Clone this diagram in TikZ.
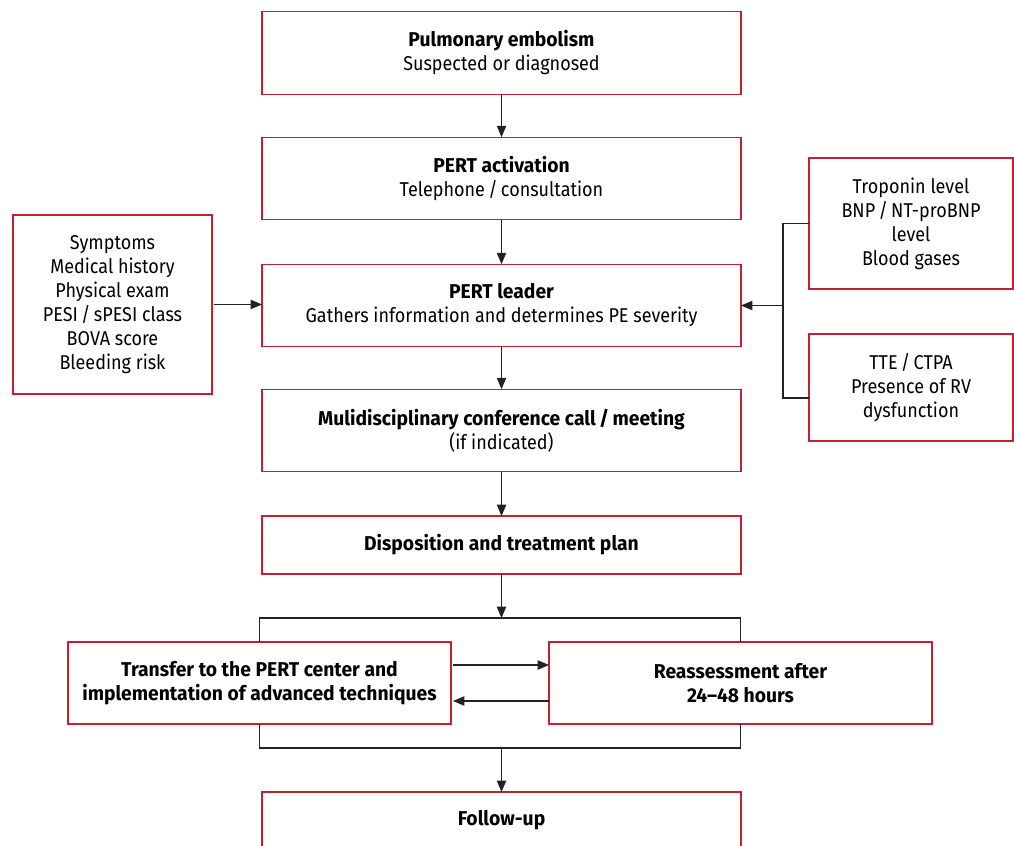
\documentclass[tikz,border=0pt]{standalone}
\usepackage{fontspec}
\setmainfont{Fira Sans}[FakeStretch=0.9, BoldFeatures={FakeStretch=0.965}]
\usepackage{xcolor}
\usepackage{tikz}
\usetikzlibrary{arrows.meta,calc,positioning}
\definecolor{boxred}{RGB}{200,30,50}
\definecolor{linegray}{RGB}{34,34,34}

\begin{document}
\begin{tikzpicture}[
			x = 0.75pt, y = -0.75pt,
			every node/.style = {font=\fontsize{15}{18}\selectfont, align=center, inner sep=0pt, outer sep=0pt},
			box/.style = {draw=boxred, line width=0.8pt, fill=white},
			mainbox/.style = {box, minimum width=359.25pt, minimum height=62pt},
			link/.style = {draw=linegray, line width=0.8pt},
			arr/.style = {link, -{Triangle[length=8.5pt,width=7pt]}}
			]
			\useasboundingbox (0,0) rectangle (1014,846);

			% central column
			\node[mainbox] (pe) at (501.5,53) {\textbf{Pulmonary embolism}\\Suspected or diagnosed};
			\node[mainbox] (act) at (501.5,178.5) {\textbf{PERT activation}\\Telephone\,/\,consultation};
			\node[mainbox] (lead) at (501.5,305.5) {\textbf{PERT leader}\\Gathers information and determines PE severity};
			\node[mainbox] (conf) at (501.5,430.5) {\textbf{Mulidisciplinary conference call\,/\,meeting}\\(if indicated)};
			\node[mainbox, minimum height=43.5pt] (disp) at (501.5,545) {\textbf{Disposition and treatment plan}};

			% side inputs
			\node[box, minimum width=149.25pt, minimum height=134.25pt] (sym) at (112.5,304.5)
				{Symptoms\\Medical history\\Physical exam\\PESI\,/\,sPESI class\\BOVA score\\Bleeding risk};
			\node[box, minimum width=153pt, minimum height=98.25pt] (lab) at (911,223.5)
				{Troponin level\\BNP\,/\,NT-proBNP\\level\\Blood gases};
			\node[box, minimum width=153pt, minimum height=80.25pt] (img) at (911,387.5)
				{TTE\,/\,CTPA\\Presence of RV\\dysfunction};

			% bottom part
			\node[box, minimum width=287.25pt, minimum height=61.5pt] (trans) at (259.5,683)
				{\textbf{Transfer to the PERT center and}\\\textbf{implementation of advanced techniques}};
			\node[box, minimum width=287.25pt, minimum height=61.5pt] (reas) at (740.5,683)
				{\textbf{Reassessment after}\\\textbf{24--48 hours}};
			\node[mainbox, minimum height=42pt] (fol) at (501.5,820) {\textbf{Follow-up}};

			\coordinate (brtop) at (783,223.5);
			\coordinate (brbot) at (783,398);
			\coordinate (split) at (501.5,618);
			\coordinate (join) at (501.5,748);

			\draw[arr] (pe) -- (act);
			\draw[arr] (act) -- (lead);
			\draw[arr] (lead) -- (conf);
			\draw[arr] (conf) -- (disp);

			\draw[arr] ($(sym.east)+(2,0)$) -- (sym.east -| lead.west);
			\draw[link] (lab.west) -- (brtop) -- (brbot) -- (img.west |- brbot);
			\draw[arr] (brtop |- lead) -- (lead.east);

			\draw[arr] (disp.south) -- (split);
			\draw[link] (trans.north) |- (split) -| (reas.north);
			\draw[arr] ($(trans.east)+(2,-18)$) -- ($(reas.west)+(0,-18)$);
			\draw[arr] ($(reas.west)+(0,18)$) -- ($(trans.east)+(2,18)$);
			\draw[link] (trans.south) |- (join) -| (reas.south);
			\draw[arr] (join) -- (fol.north);

		\end{tikzpicture}
\end{document}
